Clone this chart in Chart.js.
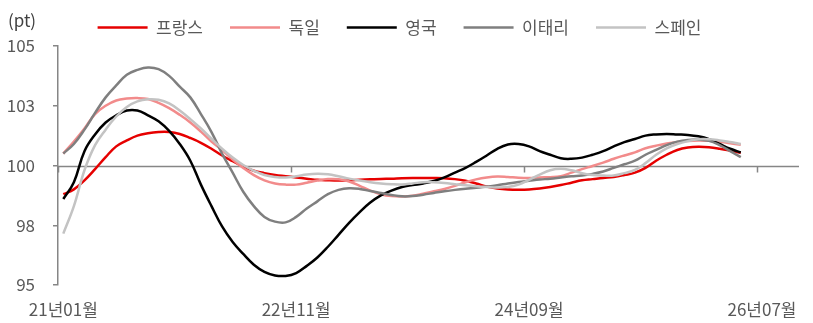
<!DOCTYPE html>
<html>
<head>
<meta charset="utf-8">
<script src="https://cdn.jsdelivr.net/npm/chart.js@4"></script>
<style>
  html, body { margin: 0; padding: 0; background: #fff; }
  #wrap { position: relative; width: 813px; height: 323px; }
  #unit { position: absolute; left: 8px; top: 10px; font: 17px "Noto Sans CJK KR", sans-serif; line-height: 20px; color: #404040; }
</style>
</head>
<body>
<div id="wrap">
  <canvas id="indexChart" width="813" height="323"></canvas>
  <div id="unit">(pt)</div>
</div>
<script>
// months 21년01월 .. 26년10월 (axis runs a few months past the data)
let months = [];
for (let y = 21; y <= 26; y++) {
  for (let m = 1; m <= 12; m++) {
    if (y === 26 && m > 10) break;
    months.push(y + '년' + String(m).padStart(2, '0') + '월');
  }
}
let tickEvery = 22;

let france = [98.8, 99.0, 99.38, 99.85, 100.35, 100.8, 101.05, 101.25, 101.35, 101.4,
  101.4, 101.32, 101.15, 100.95, 100.7, 100.42, 100.18, 99.95, 99.78, 99.68,
  99.6, 99.55, 99.5, 99.45, 99.4, 99.38, 99.37, 99.38, 99.4, 99.42,
  99.44, 99.45, 99.47, 99.48, 99.48, 99.48, 99.47, 99.43, 99.36, 99.25,
  99.12, 99.04, 99.0, 98.99, 99.0, 99.04, 99.1, 99.18, 99.28, 99.38,
  99.43, 99.48, 99.52, 99.6, 99.7, 99.9, 100.2, 100.45, 100.65, 100.75,
  100.78, 100.76, 100.7, 100.62, 100.53];

let germany = [100.5, 101.0, 101.55, 102.15, 102.5, 102.72, 102.8, 102.82, 102.78, 102.62,
  102.4, 102.12, 101.8, 101.42, 101.0, 100.65, 100.25, 99.9, 99.6, 99.38,
  99.25, 99.2, 99.2, 99.28, 99.37, 99.43, 99.42, 99.33, 99.15, 98.95,
  98.8, 98.72, 98.7, 98.73, 98.82, 98.92, 99.02, 99.15, 99.3, 99.42,
  99.5, 99.54, 99.52, 99.49, 99.48, 99.5, 99.51, 99.55, 99.7, 99.85,
  99.98, 100.12, 100.28, 100.42, 100.55, 100.72, 100.83, 100.92, 100.98, 101.03,
  101.05, 101.04, 101.0, 100.93, 100.87];

let uk = [98.6, 99.3, 100.6, 101.3, 101.8, 102.1, 102.3, 102.3, 102.1, 101.85,
  101.45, 100.9, 100.2, 99.2, 98.3, 97.45, 96.8, 96.3, 95.85, 95.55,
  95.4, 95.38, 95.5, 95.8, 96.15, 96.6, 97.1, 97.6, 98.05, 98.45,
  98.75, 98.95, 99.1, 99.18, 99.25, 99.35, 99.5, 99.7, 99.9, 100.15,
  100.42, 100.7, 100.88, 100.9, 100.8, 100.6, 100.45, 100.3, 100.28, 100.33,
  100.45, 100.6, 100.8, 100.98, 101.11, 101.25, 101.3, 101.32, 101.3, 101.28,
  101.22, 101.1, 100.9, 100.7, 100.55];

let italy = [100.5, 100.9, 101.5, 102.2, 102.85, 103.35, 103.8, 104.0, 104.1, 104.03,
  103.75, 103.3, 102.85, 102.15, 101.4, 100.5, 99.7, 98.9, 98.3, 97.85,
  97.65, 97.62, 97.85, 98.2, 98.5, 98.8, 98.98, 99.05, 99.02, 98.93,
  98.85, 98.77, 98.71, 98.72, 98.78, 98.85, 98.92, 98.98, 99.03, 99.07,
  99.12, 99.17, 99.25, 99.31, 99.36, 99.41, 99.45, 99.5, 99.55, 99.58,
  99.65, 99.75, 99.9, 100.05, 100.2, 100.45, 100.65, 100.85, 101.0, 101.07,
  101.08, 101.03, 100.85, 100.6, 100.35];

let spain = [97.15, 98.3, 99.8, 100.85, 101.5, 102.05, 102.45, 102.68, 102.77, 102.75,
  102.6, 102.3, 101.94, 101.55, 101.12, 100.7, 100.33, 100.02, 99.78, 99.6,
  99.52, 99.5, 99.55, 99.62, 99.65, 99.63, 99.55, 99.45, 99.37, 99.3,
  99.25, 99.22, 99.21, 99.25, 99.3, 99.3, 99.27, 99.22, 99.17, 99.13,
  99.1, 99.08, 99.1, 99.2, 99.4, 99.62, 99.8, 99.86, 99.8, 99.68,
  99.6, 99.58, 99.58, 99.68, 99.82, 100.1, 100.45, 100.72, 100.9, 101.02,
  101.1, 101.1, 101.05, 100.98, 100.9];

const FONT = '"Noto Sans CJK KR", sans-serif';
const AXIS = '#868686';

// horizontal axis line at 100 with small ticks every 22 months
const baseLine = {
  id: 'baseLine',
  beforeDatasetsDraw(chart) {
    const x = chart.scales.x, y = chart.scales.y, ctx = chart.ctx;
    const yy = Math.round(y.getPixelForValue(100)) + 0.5;
    ctx.save();
    ctx.strokeStyle = AXIS;
    ctx.lineWidth = 1.5;
    ctx.beginPath();
    ctx.moveTo(chart.chartArea.left, yy);
    ctx.lineTo(chart.chartArea.right, yy);
    for (let i = 0; i < months.length; i += tickEvery) {
      const xx = Math.round(x.getPixelForValue(i - 0.5)) + 0.5;
      ctx.moveTo(xx, yy);
      ctx.lineTo(xx, yy + 6);
    }
    ctx.stroke();
    ctx.restore();
  }
};

function line(label, data, color, order) {
  return {
    label: label,
    data: data,
    borderColor: color,
    backgroundColor: color,
    borderWidth: 2.5,
    pointRadius: 0,
    tension: 0.4,
    fill: false,
    order: order
  };
}

let chart = new Chart(document.getElementById('indexChart'), {
  type: 'line',
  data: {
    labels: months,
    datasets: [
      line('프랑스', france, '#e60000', 4),
      line('독일', germany, '#f28b8b', 3),
      line('영국', uk, '#000000', 2),
      line('이태리', italy, '#7f7f7f', 1),
      line('스페인', spain, '#c3c3c3', 0)
    ]
  },
  plugins: [baseLine],
  options: {
    responsive: false,
    animation: false,
    layout: { padding: { top: -8, right: 14, left: 0, bottom: 0 } },
    plugins: {
      tooltip: { enabled: false },
      legend: {
        position: 'top',
        labels: {
          usePointStyle: true,
          pointStyle: 'line',
          pointStyleWidth: 50,
          padding: 27,
          color: '#595959',
          font: { family: FONT, size: 17 },
          sort: (a, b) => a.datasetIndex - b.datasetIndex
        }
      }
    },
    scales: {
      x: {
        offset: true,
        border: { display: false },
        grid: { display: false, drawTicks: false },
        afterFit: (s) => { s.height = 38; },
        ticks: {
          autoSkip: false,
          maxRotation: 0,
          padding: 14,
          color: '#595959',
          font: { family: FONT, size: 17 },
          callback: function (value, index) {
            return index % tickEvery === 0 ? months[index] : '';
          }
        }
      },
      y: {
        min: 95,
        max: 105,
        afterFit: (s) => { s.width = 58; },
        border: { display: true, color: AXIS, width: 1.5 },
        grid: { drawOnChartArea: false, drawTicks: true, tickLength: 5, color: AXIS, lineWidth: 1.5 },
        ticks: {
          stepSize: 2.5,
          padding: 18,
          color: '#595959',
          font: { family: FONT, size: 17 },
          callback: (v) => Math.round(v)
        }
      }
    }
  }
});
</script>
</body>
</html>
